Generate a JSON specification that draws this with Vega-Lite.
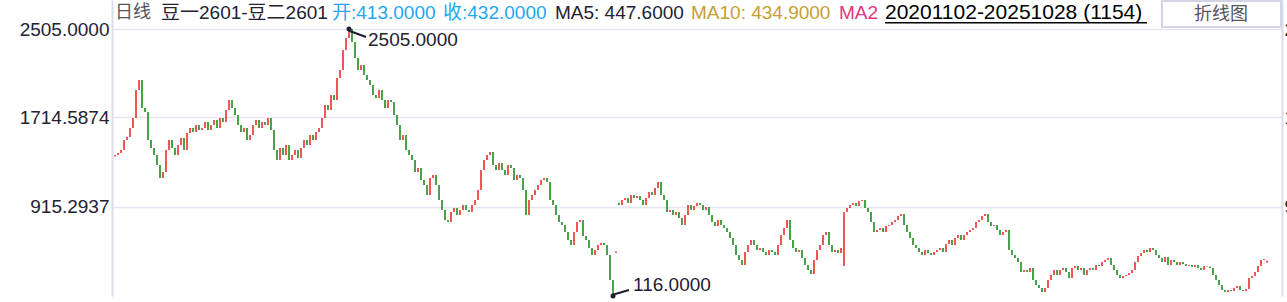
{
"$schema":"https://vega.github.io/schema/vega-lite/v6.json",
"width":1170,"height":296,
"autosize":{"type":"none"},
"padding":{"left":112,"top":0,"right":5,"bottom":6},
"background":"white",
"config":{"font":"Liberation Sans, Noto Sans CJK SC","view":{"stroke":null}},
"resolve":{"axis":{"y":"independent"}},
"data":{"values":[{}]},
"layer":[
{"data":{"values":[
{"i":0,"o":1365,"c":1378},{"i":3,"o":1378,"c":1396},{"i":6,"o":1396,"c":1422},{"i":9,"o":1422,"c":1512},{"i":12,"o":1512,"c":1539},{"i":15,"o":1539,"c":1619},{"i":18,"o":1619,"c":1709},{"i":21,"o":1709,"c":1959},{"i":24,"o":1959,"c":2049},{"i":27,"o":2049,"c":1798},{"i":30,"o":1798,"c":1762},{"i":33,"o":1762,"c":1512},{"i":36,"o":1512,"c":1440},{"i":39,"o":1440,"c":1378},{"i":42,"o":1378,"c":1288},{"i":45,"o":1288,"c":1172},{"i":48,"o":1172,"c":1226},{"i":51,"o":1226,"c":1422},{"i":54,"o":1422,"c":1512},{"i":57,"o":1512,"c":1440},{"i":60,"o":1440,"c":1378},{"i":63,"o":1378,"c":1467},{"i":66,"o":1467,"c":1530},{"i":69,"o":1530,"c":1422},{"i":72,"o":1422,"c":1575},{"i":75,"o":1575,"c":1619},{"i":78,"o":1619,"c":1584},{"i":81,"o":1584,"c":1646},{"i":84,"o":1646,"c":1601},{"i":87,"o":1601,"c":1619},{"i":90,"o":1619,"c":1673},{"i":93,"o":1673,"c":1601},{"i":96,"o":1601,"c":1646},{"i":99,"o":1646,"c":1691},{"i":102,"o":1691,"c":1619},{"i":105,"o":1619,"c":1709},{"i":108,"o":1709,"c":1673},{"i":111,"o":1673,"c":1780},{"i":114,"o":1780,"c":1870},{"i":117,"o":1870,"c":1798},{"i":120,"o":1798,"c":1736},{"i":123,"o":1736,"c":1646},{"i":126,"o":1646,"c":1584},{"i":129,"o":1584,"c":1619},{"i":132,"o":1619,"c":1512},{"i":135,"o":1512,"c":1557},{"i":138,"o":1557,"c":1646},{"i":141,"o":1646,"c":1691},{"i":144,"o":1691,"c":1619},{"i":147,"o":1619,"c":1673},{"i":150,"o":1673,"c":1646},{"i":153,"o":1646,"c":1709},{"i":156,"o":1709,"c":1601},{"i":159,"o":1601,"c":1422},{"i":162,"o":1422,"c":1333},{"i":165,"o":1333,"c":1440},{"i":168,"o":1440,"c":1378},{"i":171,"o":1378,"c":1467},{"i":174,"o":1467,"c":1333},{"i":177,"o":1333,"c":1378},{"i":180,"o":1378,"c":1422},{"i":183,"o":1422,"c":1351},{"i":186,"o":1351,"c":1440},{"i":189,"o":1440,"c":1512},{"i":192,"o":1512,"c":1467},{"i":195,"o":1467,"c":1557},{"i":198,"o":1557,"c":1512},{"i":201,"o":1512,"c":1584},{"i":204,"o":1584,"c":1619},{"i":207,"o":1619,"c":1709},{"i":210,"o":1709,"c":1825},{"i":213,"o":1825,"c":1780},{"i":216,"o":1780,"c":1915},{"i":219,"o":1915,"c":1870},{"i":222,"o":1870,"c":2067},{"i":225,"o":2067,"c":2138},{"i":228,"o":2138,"c":2317},{"i":231,"o":2317,"c":2425},{"i":234,"o":2425,"c":2505},{"i":237,"o":2505,"c":2389},{"i":240,"o":2389,"c":2246},{"i":243,"o":2246,"c":2138},{"i":246,"o":2138,"c":2183},{"i":249,"o":2183,"c":2094},{"i":252,"o":2094,"c":2049},{"i":255,"o":2049,"c":2004},{"i":258,"o":2004,"c":1915},{"i":261,"o":1915,"c":1888},{"i":264,"o":1888,"c":1959},{"i":267,"o":1959,"c":1870},{"i":270,"o":1870,"c":1798},{"i":273,"o":1798,"c":1870},{"i":276,"o":1870,"c":1852},{"i":279,"o":1852,"c":1736},{"i":282,"o":1736,"c":1646},{"i":285,"o":1646,"c":1512},{"i":288,"o":1512,"c":1557},{"i":291,"o":1557,"c":1422},{"i":294,"o":1422,"c":1378},{"i":297,"o":1378,"c":1333},{"i":300,"o":1333,"c":1226},{"i":303,"o":1226,"c":1261},{"i":306,"o":1261,"c":1154},{"i":309,"o":1154,"c":1109},{"i":312,"o":1109,"c":1020},{"i":315,"o":1020,"c":1172},{"i":318,"o":1172,"c":1199},{"i":321,"o":1199,"c":1109},{"i":324,"o":1109,"c":975},{"i":327,"o":975,"c":886},{"i":330,"o":886,"c":796},{"i":333,"o":796,"c":778},{"i":336,"o":778,"c":868},{"i":339,"o":868,"c":903},{"i":342,"o":903,"c":841},{"i":345,"o":841,"c":886},{"i":348,"o":886,"c":930},{"i":351,"o":930,"c":886},{"i":354,"o":886,"c":868},{"i":357,"o":868,"c":930},{"i":360,"o":930,"c":975},{"i":363,"o":975,"c":1065},{"i":366,"o":1065,"c":1243},{"i":369,"o":1243,"c":1333},{"i":372,"o":1333,"c":1378},{"i":375,"o":1378,"c":1405},{"i":378,"o":1405,"c":1288},{"i":381,"o":1288,"c":1243},{"i":384,"o":1243,"c":1306},{"i":387,"o":1306,"c":1243},{"i":390,"o":1243,"c":1199},{"i":393,"o":1199,"c":1288},{"i":396,"o":1288,"c":1261},{"i":399,"o":1261,"c":1154},{"i":402,"o":1154,"c":1199},{"i":405,"o":1199,"c":1172},{"i":408,"o":1172,"c":1065},{"i":411,"o":1065,"c":841},{"i":414,"o":841,"c":975},{"i":417,"o":975,"c":1020},{"i":420,"o":1020,"c":1065},{"i":423,"o":1065,"c":1109},{"i":426,"o":1109,"c":1154},{"i":429,"o":1154,"c":1172},{"i":432,"o":1172,"c":1136},{"i":435,"o":1136,"c":975},{"i":438,"o":975,"c":930},{"i":441,"o":930,"c":841},{"i":444,"o":841,"c":778},{"i":447,"o":778,"c":751},{"i":450,"o":751,"c":689},{"i":453,"o":689,"c":617},{"i":456,"o":617,"c":572},{"i":459,"o":572,"c":689},{"i":462,"o":689,"c":778},{"i":465,"o":778,"c":796},{"i":468,"o":796,"c":653},{"i":471,"o":653,"c":617},{"i":474,"o":617,"c":546},{"i":477,"o":546,"c":483},{"i":480,"o":483,"c":528},{"i":483,"o":528,"c":572},{"i":486,"o":572,"c":590},{"i":489,"o":590,"c":572},{"i":492,"o":572,"c":483},{"i":495,"o":483,"c":259},{"i":498,"o":259,"c":116},{"i":501,"o":500,"c":515},{"i":504,"o":950,"c":930},{"i":507,"o":930,"c":975},{"i":510,"o":975,"c":993},{"i":513,"o":993,"c":948},{"i":516,"o":948,"c":1020},{"i":519,"o":1020,"c":993},{"i":522,"o":993,"c":1011},{"i":525,"o":1011,"c":975},{"i":528,"o":975,"c":930},{"i":531,"o":930,"c":993},{"i":534,"o":993,"c":1047},{"i":537,"o":1047,"c":1020},{"i":540,"o":1020,"c":1082},{"i":543,"o":1082,"c":1136},{"i":546,"o":1136,"c":1020},{"i":549,"o":1020,"c":975},{"i":552,"o":975,"c":868},{"i":555,"o":868,"c":886},{"i":558,"o":886,"c":841},{"i":561,"o":841,"c":868},{"i":564,"o":868,"c":814},{"i":567,"o":814,"c":751},{"i":570,"o":751,"c":841},{"i":573,"o":841,"c":930},{"i":576,"o":930,"c":886},{"i":579,"o":886,"c":921},{"i":582,"o":921,"c":948},{"i":585,"o":948,"c":930},{"i":588,"o":930,"c":886},{"i":591,"o":886,"c":912},{"i":594,"o":912,"c":841},{"i":597,"o":841,"c":778},{"i":600,"o":778,"c":742},{"i":603,"o":742,"c":796},{"i":606,"o":796,"c":751},{"i":609,"o":751,"c":725},{"i":612,"o":725,"c":689},{"i":615,"o":689,"c":635},{"i":618,"o":635,"c":572},{"i":621,"o":572,"c":483},{"i":624,"o":483,"c":438},{"i":627,"o":438,"c":393},{"i":630,"o":393,"c":510},{"i":633,"o":510,"c":572},{"i":636,"o":572,"c":617},{"i":639,"o":617,"c":572},{"i":642,"o":572,"c":528},{"i":645,"o":528,"c":546},{"i":648,"o":546,"c":510},{"i":651,"o":510,"c":483},{"i":654,"o":483,"c":528},{"i":657,"o":528,"c":510},{"i":660,"o":510,"c":483},{"i":663,"o":483,"c":572},{"i":666,"o":572,"c":662},{"i":669,"o":662,"c":725},{"i":672,"o":725,"c":796},{"i":675,"o":796,"c":617},{"i":678,"o":617,"c":546},{"i":681,"o":546,"c":510},{"i":684,"o":510,"c":528},{"i":687,"o":528,"c":456},{"i":690,"o":456,"c":393},{"i":693,"o":393,"c":349},{"i":696,"o":349,"c":313},{"i":699,"o":313,"c":438},{"i":702,"o":438,"c":528},{"i":705,"o":528,"c":572},{"i":708,"o":572,"c":662},{"i":711,"o":662,"c":689},{"i":714,"o":689,"c":572},{"i":717,"o":572,"c":510},{"i":720,"o":510,"c":528},{"i":723,"o":528,"c":501},{"i":726,"o":501,"c":546},{"i":729,"o":384,"c":868},{"i":732,"o":868,"c":903},{"i":735,"o":903,"c":930},{"i":738,"o":930,"c":948},{"i":741,"o":948,"c":921},{"i":744,"o":921,"c":966},{"i":747,"o":966,"c":975},{"i":750,"o":975,"c":903},{"i":753,"o":903,"c":868},{"i":756,"o":868,"c":778},{"i":759,"o":778,"c":689},{"i":762,"o":689,"c":707},{"i":765,"o":707,"c":725},{"i":768,"o":725,"c":689},{"i":771,"o":689,"c":742},{"i":774,"o":742,"c":751},{"i":777,"o":751,"c":778},{"i":780,"o":778,"c":796},{"i":783,"o":796,"c":832},{"i":786,"o":832,"c":850},{"i":789,"o":850,"c":751},{"i":792,"o":751,"c":689},{"i":795,"o":689,"c":635},{"i":798,"o":635,"c":572},{"i":801,"o":572,"c":546},{"i":804,"o":546,"c":510},{"i":807,"o":510,"c":483},{"i":810,"o":483,"c":528},{"i":813,"o":528,"c":501},{"i":816,"o":501,"c":483},{"i":819,"o":483,"c":510},{"i":822,"o":510,"c":528},{"i":825,"o":528,"c":546},{"i":828,"o":546,"c":510},{"i":831,"o":510,"c":581},{"i":834,"o":581,"c":617},{"i":837,"o":617,"c":572},{"i":840,"o":572,"c":635},{"i":843,"o":635,"c":662},{"i":846,"o":662,"c":617},{"i":849,"o":617,"c":662},{"i":852,"o":662,"c":689},{"i":855,"o":689,"c":707},{"i":858,"o":707,"c":725},{"i":861,"o":725,"c":778},{"i":864,"o":778,"c":796},{"i":867,"o":796,"c":832},{"i":870,"o":832,"c":850},{"i":873,"o":850,"c":778},{"i":876,"o":778,"c":742},{"i":879,"o":742,"c":751},{"i":882,"o":751,"c":707},{"i":885,"o":707,"c":662},{"i":888,"o":662,"c":689},{"i":891,"o":689,"c":707},{"i":894,"o":707,"c":528},{"i":897,"o":528,"c":483},{"i":900,"o":483,"c":456},{"i":903,"o":456,"c":420},{"i":906,"o":420,"c":331},{"i":909,"o":331,"c":349},{"i":912,"o":349,"c":331},{"i":915,"o":331,"c":367},{"i":918,"o":367,"c":259},{"i":921,"o":259,"c":214},{"i":924,"o":214,"c":188},{"i":927,"o":188,"c":152},{"i":930,"o":152,"c":188},{"i":933,"o":188,"c":259},{"i":936,"o":259,"c":304},{"i":939,"o":304,"c":349},{"i":942,"o":349,"c":304},{"i":945,"o":304,"c":349},{"i":948,"o":349,"c":367},{"i":951,"o":367,"c":331},{"i":954,"o":331,"c":277},{"i":957,"o":277,"c":367},{"i":960,"o":367,"c":384},{"i":963,"o":384,"c":349},{"i":966,"o":349,"c":367},{"i":969,"o":367,"c":304},{"i":972,"o":304,"c":349},{"i":975,"o":349,"c":367},{"i":978,"o":367,"c":349},{"i":981,"o":349,"c":393},{"i":984,"o":393,"c":384},{"i":987,"o":384,"c":420},{"i":990,"o":420,"c":438},{"i":993,"o":438,"c":456},{"i":996,"o":456,"c":393},{"i":999,"o":393,"c":349},{"i":1002,"o":349,"c":304},{"i":1005,"o":304,"c":277},{"i":1008,"o":277,"c":295},{"i":1011,"o":295,"c":304},{"i":1014,"o":304,"c":322},{"i":1017,"o":322,"c":349},{"i":1020,"o":349,"c":420},{"i":1023,"o":420,"c":474},{"i":1026,"o":474,"c":501},{"i":1029,"o":501,"c":528},{"i":1032,"o":528,"c":510},{"i":1035,"o":510,"c":546},{"i":1038,"o":546,"c":528},{"i":1041,"o":528,"c":483},{"i":1044,"o":483,"c":456},{"i":1047,"o":456,"c":420},{"i":1050,"o":420,"c":465},{"i":1053,"o":465,"c":393},{"i":1056,"o":393,"c":438},{"i":1059,"o":438,"c":420},{"i":1062,"o":420,"c":393},{"i":1065,"o":393,"c":420},{"i":1068,"o":420,"c":402},{"i":1071,"o":402,"c":384},{"i":1074,"o":384,"c":393},{"i":1077,"o":393,"c":376},{"i":1080,"o":376,"c":393},{"i":1083,"o":393,"c":367},{"i":1086,"o":367,"c":349},{"i":1089,"o":349,"c":384},{"i":1092,"o":384,"c":380},{"i":1095,"o":380,"c":367},{"i":1098,"o":367,"c":304},{"i":1101,"o":304,"c":259},{"i":1104,"o":259,"c":214},{"i":1107,"o":214,"c":170},{"i":1110,"o":170,"c":152},{"i":1113,"o":152,"c":170},{"i":1116,"o":170,"c":161},{"i":1119,"o":161,"c":188},{"i":1122,"o":188,"c":206},{"i":1125,"o":206,"c":170},{"i":1128,"o":170,"c":161},{"i":1131,"o":161,"c":179},{"i":1134,"o":179,"c":277},{"i":1137,"o":277,"c":295},{"i":1140,"o":295,"c":331},{"i":1143,"o":331,"c":384},{"i":1146,"o":384,"c":438},{"i":1149,"o":438,"c":447},{"i":1152,"o":413,"c":432}
]},
"mark":{"type":"rule","strokeWidth":1.6},
"encoding":{
"x":{"field":"i","type":"quantitative","scale":{"domain":[-3,1167],"nice":false,"zero":false},"axis":{"title":null,"labels":false,"ticks":false,"grid":false,"domainColor":"#cacade","domainWidth":2,"offset":1}},
"y":{"field":"o","type":"quantitative","scale":{"domain":[116,2764.6],"nice":false,"zero":false},"axis":{"orient":"left","title":null,"values":[915.2937,1714.5874,2505],"format":".4f","labelFontSize":19,"labelColor":"#222235","labelPadding":3,"ticks":false,"grid":true,"gridColor":"#e6e6f2","gridWidth":1.5,"domainColor":"#dcdcec","domainWidth":2}},
"y2":{"field":"c"},
"color":{"condition":{"test":"datum.c >= datum.o","value":"#ee2b2b"},"value":"#1b8c1b"}
}},
{"data":{"values":[{"i":234,"v":2505},{"i":498,"v":116}]},
"mark":{"type":"point","filled":true,"size":25,"color":"#1f2033","opacity":1},
"encoding":{
"x":{"field":"i","type":"quantitative","axis":null},
"y":{"field":"v","type":"quantitative","axis":{"orient":"right","title":null,"values":[915.2937,1714.5874,2505],"format":".4f","labelFontSize":19,"labelColor":"#222235","labelPadding":2,"ticks":false,"grid":false,"domainColor":"#dcdcec","domainWidth":2}}
}},
{"mark":{"type":"rule","strokeWidth":2.2,"color":"#1f2033"},
"encoding":{"x":{"datum":234,"type":"quantitative","axis":null},"x2":{"datum":251},"y":{"datum":2490,"type":"quantitative","axis":null},"y2":{"datum":2433}}},
{"mark":{"type":"rule","strokeWidth":2.2,"color":"#1f2033"},
"encoding":{"x":{"datum":497,"type":"quantitative","axis":null},"x2":{"datum":514},"y":{"datum":125,"type":"quantitative","axis":null},"y2":{"datum":170}}},
{"mark":{"type":"text","text":"2505.0000","align":"left","baseline":"middle","dx":19,"dy":11,"fontSize":19,"color":"#1f2033"},
"encoding":{"x":{"datum":234,"type":"quantitative","axis":null},"y":{"datum":2505,"type":"quantitative","axis":null}}},
{"mark":{"type":"text","text":"116.0000","align":"left","baseline":"middle","dx":20,"dy":-11,"fontSize":19,"color":"#1f2033"},
"encoding":{"x":{"datum":498,"type":"quantitative","axis":null},"y":{"datum":116,"type":"quantitative","axis":null}}},
{"mark":{"type":"text","text":"日线","align":"left","baseline":"middle","fontSize":18,"color":"#555560"},
"encoding":{"x":{"datum":0,"type":"quantitative","axis":null},"y":{"datum":2648,"type":"quantitative","axis":null}}},
{"mark":{"type":"text","text":"豆一2601-豆二2601","align":"left","baseline":"middle","fontSize":19,"color":"#222235"},
"encoding":{"x":{"datum":46,"type":"quantitative","axis":null},"y":{"datum":2648,"type":"quantitative","axis":null}}},
{"mark":{"type":"text","text":"开:413.0000","align":"left","baseline":"middle","fontSize":19,"color":"#1ea7f0"},
"encoding":{"x":{"datum":217,"type":"quantitative","axis":null},"y":{"datum":2648,"type":"quantitative","axis":null}}},
{"mark":{"type":"text","text":"收:432.0000","align":"left","baseline":"middle","fontSize":19,"color":"#1ea7f0"},
"encoding":{"x":{"datum":328,"type":"quantitative","axis":null},"y":{"datum":2648,"type":"quantitative","axis":null}}},
{"mark":{"type":"text","text":"MA5: 447.6000","align":"left","baseline":"middle","fontSize":19,"color":"#222235"},
"encoding":{"x":{"datum":440,"type":"quantitative","axis":null},"y":{"datum":2648,"type":"quantitative","axis":null}}},
{"mark":{"type":"text","text":"MA10: 434.9000","align":"left","baseline":"middle","fontSize":19,"color":"#c4a032"},
"encoding":{"x":{"datum":576,"type":"quantitative","axis":null},"y":{"datum":2648,"type":"quantitative","axis":null}}},
{"mark":{"type":"text","text":"MA2","align":"left","baseline":"middle","fontSize":19,"color":"#e6337f"},
"encoding":{"x":{"datum":724,"type":"quantitative","axis":null},"y":{"datum":2648,"type":"quantitative","axis":null}}},
{"mark":{"type":"text","text":"20201102-20251028 (1154)","align":"left","baseline":"middle","fontSize":21,"color":"#000000"},
"encoding":{"x":{"datum":770,"type":"quantitative","axis":null},"y":{"datum":2648,"type":"quantitative","axis":null}}},
{"mark":{"type":"rule","strokeWidth":1.6,"color":"#000000"},
"encoding":{"x":{"datum":770,"type":"quantitative","axis":null},"x2":{"datum":1032},"y":{"datum":2561,"type":"quantitative","axis":null}}},
{"mark":{"type":"rect","fill":"#ffffff","stroke":"#d4d4e8","strokeWidth":2},
"encoding":{"x":{"datum":1047,"type":"quantitative","axis":null},"x2":{"datum":1166},"y":{"datum":2755,"type":"quantitative","axis":null},"y2":{"datum":2523}}},
{"mark":{"type":"text","text":"折线图","align":"center","baseline":"middle","fontSize":18,"color":"#555560"},
"encoding":{"x":{"datum":1106,"type":"quantitative","axis":null},"y":{"datum":2634,"type":"quantitative","axis":null}}}
]
}
